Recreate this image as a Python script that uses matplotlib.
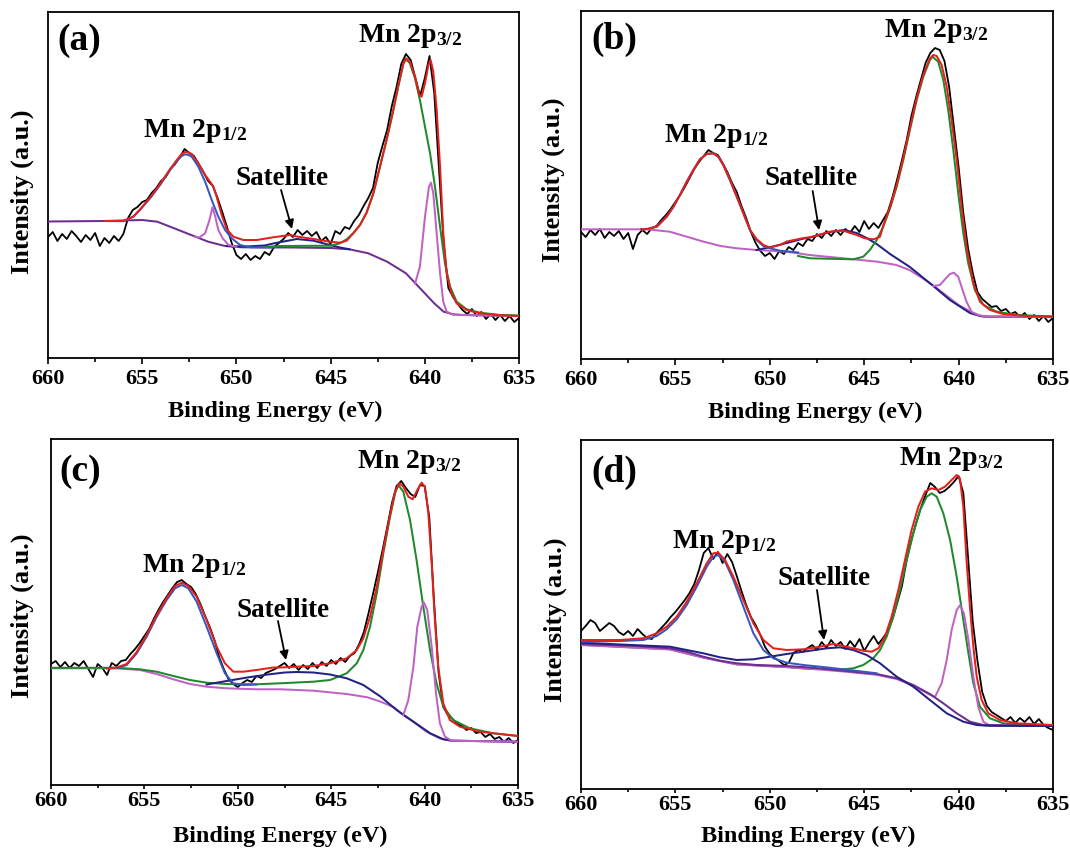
import numpy as np
import matplotlib
matplotlib.use("Agg")
import matplotlib.pyplot as plt

plt.rcParams['font.family'] = ['Liberation Serif', 'DejaVu Serif']
plt.rcParams['font.weight'] = 'bold'
plt.rcParams['mathtext.fontset'] = 'custom'
plt.rcParams['mathtext.rm'] = 'Liberation Serif:bold'
plt.rcParams['mathtext.bf'] = 'Liberation Serif:bold'
plt.rcParams['mathtext.it'] = 'Liberation Serif:bold'

# ---------------- data (binding energy eV, intensity a.u.) ----------------
# raw spectra, 660 -> 635 eV in 0.25 eV steps
a_raw = [121,126,117,124,119,127,122,116,123,118,125,112,120,115,122,117,124,
         140,148,151,156,158,165,170,177,181,189,194,201,209,205,202,194,186,177,172,160,146,131,115,103,
         99,104,98,102,99,106,103,111,115,119,125,121,128,123,127,122,126,117,121,114,127,124,131,129,
         137,143,152,160,170,195,212,228,252,271,294,304,298,280,262,280,302,265,190,115,70,61,54,48,
         44,49,42,46,39,44,38,43,37,42,36,40]
b_raw = [127,122,129,124,130,121,127,123,128,120,126,110,124,129,125,131,133,
         139,144,150,157,164,172,181,190,197,203,209,206,204,196,187,176,167,153,141,127,116,108,103,106,
         100,108,105,112,109,116,113,120,118,125,121,128,123,129,124,130,126,133,127,138,130,136,131,139,
         147,162,180,199,219,243,262,279,296,306,311,309,298,272,232,192,146,111,86,67,60,56,52,53,
         48,50,45,47,42,46,40,44,38,43,37,41]
c_raw = [121,124,118,123,117,122,119,124,116,108,121,117,110,122,119,124,125,
         131,136,142,149,156,166,175,183,190,197,203,205,201,198,191,181,169,158,145,128,116,106,101,98,
         102,105,103,109,107,112,114,116,119,122,117,121,115,120,116,122,117,123,119,125,121,127,123,129,
         132,141,153,172,192,213,235,258,282,299,304,297,291,288,300,299,268,185,112,78,70,66,61,59,
         55,57,52,53,48,51,46,48,43,47,42,45]
d_raw = [158,163,169,166,158,162,166,163,157,154,158,153,160,155,151,150,156,
         161,166,172,177,183,189,196,205,219,236,241,230,237,226,235,227,213,198,184,172,164,154,142,135,
         131,128,124,126,136,139,137,141,144,139,147,141,149,143,147,140,148,142,150,138,146,153,145,151,
         158,170,186,203,229,249,266,281,294,306,302,296,298,302,307,313,296,232,167,128,97,83,77,74,
         71,68,72,66,71,67,72,65,70,64,61,59]

# fitted curves as (energy, intensity) pairs
a_bg = [(660,136.5),(657,137),(655,138),(654.2,136.3),(653.3,129.7),(652.4,123),(651.5,116.3),(650.6,112),
        (649.7,110.7),(647,110.5),(645,110),(644,108.7),(643,104.7),(642,96.3),(641,84.7),(640.5,74.7),
        (640,64.7),(639.5,54.7),(639,46.3),(638.5,43.7),(638,43),(635,42)]
a_p12 = [(657,137),(656,136.8),(655.47,141.3),(655.12,148),(654.58,159.7),(654.05,173),(653.52,188),
         (653.3,193.5),(653.08,198.7),(652.9,202),(652.73,203.7),(652.55,203),(652.37,201.3),(652.02,191.3),
         (651.66,176.3),(651.31,158),(650.96,141.3),(650.6,128),(650.25,119.7),(649.8,113),(649.27,110.7),(648,110.5)]
a_s1 = [(652.2,121.5),(651.96,120.5),(651.66,124.7),(651.43,138),(651.27,150.7),(651.12,141.3),(650.96,128),
        (650.73,119.7),(650.42,113),(650.0,111.2)]
a_sat = [(650.5,112),(649.5,111.5),(648.5,112.5),(648.0,114.7),(647.15,117.7),(646.8,119),(645.92,117.3),
         (645.04,113),(644.5,110.5),(644.0,108.7)]
a_p32 = [(648.5,111),(647.69,112),(645.0,112.3),(644.5,114.7),(644.15,118.7),(643.8,124.7),(643.44,133),
         (643.09,145.3),(642.73,164.7),(642.38,191.3),(642.03,218),(641.67,248),(641.4,272),(641.14,294),
         (641.0,298.7),(640.79,294.7),(640.52,279.7),(640.26,258),(639.99,231.3),(639.72,204.7),(639.46,171.3),
         (639.19,131.3),(638.93,94.7),(638.66,71.3),(638.31,56.3),(637.78,48.7),(637.07,45.3),(636,43),(635,42.5)]
a_pk2 = [(640.52,74.3),(640.26,91.3),(639.99,141.3),(639.78,171.3),(639.67,175.3),(639.55,164.7),(639.37,124.7),
         (639.19,84.7),(639.02,56.3),(638.84,46.3),(638.49,43.3),(638,43),(635,42)]
a_env = [(657,137),(656,137),(655.47,141.5),(655.12,148.5),(654.58,160.5),(654.05,174),(653.52,189),(653.08,200),
         (652.9,204),(652.73,206),(652.55,205.5),(652.37,204),(652.02,194.7),(651.66,183),(651.4,176.3),
         (651.22,171.3),(651.04,160.7),(650.78,143),(650.51,128.7),(650.16,121.3),(649.63,118),(648.92,118),
         (648.04,120.7),(647.15,123),(646.8,121.5),(645.92,119),(645.04,116.3),(644.5,115.3),(644.15,117.3),
         (643.8,124.7),(643.44,133),(643.09,145.3),(642.73,164.7),(642.38,191.3),(642.03,218),(641.67,248),
         (641.4,273),(641.14,294.7),(641.0,299.7),(640.79,296.3),(640.52,281.3),(640.29,263),(640.17,261.3),
         (639.99,274.7),(639.81,293),(639.69,298),(639.55,286.3),(639.37,248),(639.19,191.3),(639.02,124.7),
         (638.84,84.7),(638.58,64.7),(638.31,54.7),(637.78,48),(637.07,44.7),(636.0,42.7),(635,42)]

b_bg = [(660,129.7),(656.5,129.7),(655.3,127.3),(654.4,122.3),(653.5,117.3),(652.6,113),(651.75,110.7),
        (650.7,109),(649.1,107.3),(647.9,104),(646.1,100.7),(644.3,97.3),(643.3,94),(642.6,89),(641.9,80.7),
        (641.3,73),(640.8,65.7),(640.0,54),(639.2,45.7),(638.7,42.3),(635,42.3)]
b_p12 = [(656.8,129.7),(656.52,129.9),(655.99,132.3),(655.46,142.3),(655.1,152.3),(654.76,164),(654.4,177.3),
         (654.05,189),(653.7,199.7),(653.34,205),(652.99,205.7),(652.73,202.3),(652.46,194),(652.11,179),
         (651.75,162.3),(651.4,145.7),(651.05,129),(650.7,119),(650.34,113),(649.99,110.7),(649.46,108.3),(648.5,106.5)]
b_sat = [(650.7,109),(650.0,111.7),(649.1,116),(648.2,120.5),(647.87,121.5),(646.81,127),(646.1,129),(645.4,126),
         (644.87,121),(644.34,115),(643.63,105),(642.58,92),(641.34,73),(640.46,59),(639.4,46),(638.87,43),
         (638.4,42.3),(635,42.3)]
b_pk2 = [(641.34,73),(640.99,74),(640.72,79.7),(640.46,85),(640.25,86.3),(640.02,82.3),(639.79,69),(639.58,57.3),
         (639.32,47.3),(638.96,44),(638.5,42.3),(635,42.3)]
b_p32 = [(648.5,103),(647.87,100.7),(645.58,99.7),(645.05,102.3),(644.7,109),(644.34,119),(643.99,132.3),
         (643.63,150.7),(643.28,172.3),(642.93,199),(642.58,229),(642.22,259),(641.87,282.3),(641.52,299),
         (641.38,302.3),(641.08,297.3),(640.81,279),(640.55,249),(640.28,209),(640.02,165.7),(639.75,125.7),
         (639.49,95.7),(639.14,69),(638.69,54),(637.98,47.3),(636.92,44),(635,42.3)]
b_env = [(656.8,129.7),(656.52,129.9),(655.99,132.3),(655.46,142.3),(655.1,152.3),(654.76,164),(654.4,177.3),
         (654.05,189),(653.7,199.7),(653.34,205),(652.99,205.7),(652.73,202.3),(652.46,194),(652.11,179),
         (651.75,162.3),(651.4,145.7),(651.05,129),(650.7,120),(650.34,114),(649.99,111.5),(649.46,114),
         (649.1,117.5),(648.2,121),(647.87,121.7),(646.81,127.3),(646.1,128.3),(645.4,124),(644.96,120.7),
         (644.5,119.7),(644.16,122.3),(643.99,133.5),(643.63,152),(643.28,174),(642.93,201),(642.58,231),
         (642.22,261),(641.87,284),(641.52,300.5),(641.34,304),(641.16,303),(640.9,294),(640.63,272.3),
         (640.37,239),(640.1,199),(639.84,152.3),(639.58,112.3),(639.22,75.7),(638.87,57.3),(638.34,49),
         (637.64,45),(636.4,43),(635,42.3)]

c_bg = [(660,116.7),(656.5,116.7),(655.24,115),(654.34,111),(653.45,105.7),(652.56,101),(651.67,98.3),
        (650.6,96.7),(649,95.7),(647.7,95.7),(645.96,94.3),(644.17,91),(643.06,87.7),(642.35,83.3),
        (641.64,77.7),(641.14,70),(640.6,63.3),(639.9,53.3),(639.2,46.7),(638.6,44.3),(635,43.3)]
c_p32 = [(660,117.2),(656.5,117.2),(655.24,115.7),(654.34,113.3),(653.45,109),(652.56,105),(651.67,102.3),
         (650.6,101),(649,100.7),(647.74,101.7),(645.96,103.3),(645.06,105),(644.17,111.7),(643.63,121.7),
         (643.28,135),(642.92,158.3),(642.56,191.7),(642.21,231.7),(641.85,268.3),(641.58,291.7),(641.41,300),
         (641.14,293.3),(640.78,265),(640.43,225),(640.07,178.3),(639.71,135),(639.36,101.7),(639.0,78.3),
         (638.47,65),(637.58,56.7),(636.33,51.7),(635,49)]
c_pk2 = [(641.14,70),(640.87,85),(640.6,118.3),(640.39,158.3),(640.16,178.3),(640.03,182.3),(639.86,175),
         (639.62,138.3),(639.39,91.7),(639.18,61.7),(638.91,48.3),(638.55,44.3),(635,43.3)]
c_p12 = [(657,116.7),(656.48,116.9),(655.95,120),(655.41,131.7),(654.88,148.3),(654.34,168.3),(653.81,185),
         (653.36,196.7),(653.0,200),(652.65,196.7),(652.2,183.3),(651.67,158.3),(651.13,131.7),(650.69,111.7),
         (650.24,101.7),(649.7,100),(649,100.5)]
c_sat = [(651.67,100.5),(650.6,104),(649.5,107.5),(648.4,110.5),(647.5,112.5),(646.85,113),(645.96,112.5),
         (645.06,110.5),(644.17,106.7),(643.28,100),(642.35,88.3),(641.5,75),(640.6,63.3),(639.7,51.7),
         (639.0,45.7),(638.5,44.3),(635,43.3)]
c_env = [(657,116.7),(656.48,117.5),(655.95,121),(655.41,133),(654.88,150),(654.34,170),(653.81,187),(653.36,199),
         (653.0,202.3),(652.65,199),(652.2,188.3),(651.67,165),(651.13,138.3),(650.69,121.7),(650.24,113.3),
         (649.7,113.3),(649.0,115),(648.1,117.5),(647.74,117.5),(646.85,118.3),(645.96,119),(645.06,121.7),
         (644.17,126.7),(643.63,135),(643.28,146.7),(642.92,168.3),(642.56,198.3),(642.21,235),(641.85,270),
         (641.58,293.3),(641.35,301.7),(641.14,298.3),(640.87,288.3),(640.64,285.7),(640.39,295),(640.16,302.3),
         (639.98,298.3),(639.8,271.7),(639.62,221.7),(639.45,165),(639.27,118.3),(639.0,81.7),(638.65,65),
         (638.11,58.3),(637.04,53.3),(635,49)]

d_bg = [(660,145),(657.05,143),(655.29,140.7),(654.4,137.3),(653.52,132.3),(652.64,128.3),(651.75,125.7),
        (650.7,124),(649.1,123),(647.87,121.5),(646.1,118.3),(644.34,115),(643.28,110.7),(642.4,104),
        (641.52,95),(640.81,85.7),(640.1,75.7),(639.4,67.3),(638.69,64),(635,63)]
d_p12 = [(660,147.3),(657.93,148),(656.7,149),(655.99,153),(655.46,159.7),(654.93,169.7),(654.4,184),
         (653.87,202.3),(653.34,222.3),(652.99,232.3),(652.73,234),(652.37,227.3),(651.93,209),(651.4,182.3),
         (650.87,155.7),(650.34,139),(649.81,130.7),(649.1,126.3),(648.22,124),(647.34,122.3),(646.1,119.7),(644.34,115.7)]
d_sat = [(660,146.3),(655.29,142.3),(653.52,135.7),(652.64,131.7),(651.75,129),(650.87,129.7),(649.99,132.3),
         (649.1,135),(648.22,137.3),(647.34,139.7),(646.99,140.7),(646.28,141.7),(645.58,139),(644.87,134),
         (644.16,125.7),(643.28,112.3),(642.4,102.3),(641.52,89),(640.63,75.7),(639.75,67.3),(639.04,64),
         (638.5,63.3),(635,63)]
d_p32 = [(660,144.2),(655.29,139.8),(653.52,131.5),(651.75,124.8),(649.1,122),(647.87,120),(646.1,119.7),
         (645.58,120.7),(645.05,124),(644.52,130.7),(644.16,139),(643.81,152.3),(643.46,172.3),(643.1,199),
         (642.75,229),(642.4,255.7),(642.04,279),(641.69,292.3),(641.43,295.7),(641.16,292.3),(640.81,275.7),
         (640.45,249),(640.1,212.3),(639.75,169),(639.48,135.7),(639.22,105.7),(638.87,82.3),(638.34,70.7),
         (637.64,65.7),(636.4,64),(635,63)]
d_pk2 = [(660,144),(655.29,139.5),(653.52,131.3),(651.75,124.5),(649.1,121.8),(647.87,120.3),(646.1,117.5),
         (644.34,114.2),(643.28,110),(642.4,103.3),(641.52,94.3),(641.25,92),(640.9,105.7),(640.63,129),
         (640.37,159),(640.1,179),(639.93,183.7),(639.72,175.7),(639.48,149),(639.22,112.3),(638.96,82.3),
         (638.69,67.3),(638.34,63.3),(635,63)]
d_env = [(660,149),(657.93,149),(656.7,150.7),(655.99,155.7),(655.46,162.3),(654.93,172.3),(654.4,187.3),
         (653.87,205.7),(653.34,225.7),(652.99,235.7),(652.73,236.3),(652.37,229),(651.93,212.3),(651.4,189),
         (650.87,165.7),(650.34,149),(649.81,140.7),(649.1,139),(648.22,139.7),(647.34,142.3),(646.64,145),
         (646.1,143),(645.58,140.7),(645.05,138.3),(644.6,137.3),(644.25,140.7),(643.9,152.3),(643.55,172.3),
         (643.19,199),(642.84,229),(642.49,259),(642.13,282.3),(641.78,297.3),(641.43,300.7),(641.07,299),
         (640.72,302.3),(640.37,309),(640.1,314),(639.93,310.7),(639.75,282.3),(639.58,229),(639.4,182.3),
         (639.22,142.3),(639.04,112.3),(638.78,89),(638.43,75.7),(637.81,69),(636.93,65.7),(635,64)]

x_ticks = [660, 655, 650, 645, 640, 635]
x_tick_labels = ['660', '655', '650', '645', '640', '635']
panel_letters = ['(a)', '(b)', '(c)', '(d)']

# ---------------- styling ----------------
RED = '#e3201b'
GREEN = '#1e8a2c'
BLUE = '#3658c0'
NAVY = '#222283'
MAGENTA = '#c062c4'
PURPLE = '#6e2d90'

W, H = 1070, 851
fig = plt.figure(figsize=(W / 100, H / 100), dpi=100)


def rect(l, t, r, b):
    return [l / W, 1 - b / H, (r - l) / W, (b - t) / H]


def xy(p):
    a = np.asarray(p, dtype=float)
    return a[:, 0], a[:, 1]


panels = [
    dict(rect=rect(48, 12, 519, 358), raw=a_raw,
         layers=[(a_bg, PURPLE), (a_sat, NAVY), (a_p12, BLUE), (a_s1, MAGENTA), (a_pk2, MAGENTA),
                 (a_p32, GREEN), (a_env, RED)],
         letter_pos=(0.019, 0.918), p12=(652.2, 221), sat=(647.58, 173), arrow=((647.63, 168), (647.05, 129)),
         p32=(640.8, 316), tick_len=(4.2, 3.0), tick_pad=3.5, xlab=(0.482, -0.153), ylab=(-0.055, 0.481)),
    dict(rect=rect(581, 11, 1053, 359), raw=b_raw,
         layers=[(b_bg, MAGENTA), (b_sat, NAVY), (b_p12, BLUE), (b_pk2, MAGENTA), (b_p32, GREEN), (b_env, RED)],
         letter_pos=(0.023, 0.917), p12=(652.82, 217), sat=(647.84, 174), arrow=((647.73, 168), (647.39, 129)),
         p32=(641.2, 322), tick_len=(4.2, 3.0), tick_pad=3.5, xlab=(0.496, -0.153), ylab=(-0.058, 0.514)),
    dict(rect=rect(51, 439, 518, 785), raw=c_raw,
         layers=[(c_bg, MAGENTA), (c_p32, GREEN), (c_sat, NAVY), (c_p12, BLUE), (c_pk2, MAGENTA), (c_env, RED)],
         letter_pos=(0.017, 0.906), p12=(652.34, 213), sat=(647.58, 168), arrow=((647.85, 164), (647.42, 125)),
         p32=(640.84, 317), tick_len=(3.2, 2.5), tick_pad=1.2, xlab=(0.49, -0.149), ylab=(-0.062, 0.49)),
    dict(rect=rect(581, 440, 1053, 789), raw=d_raw,
         layers=[(d_p32, GREEN), (d_pk2, MAGENTA), (d_bg, PURPLE), (d_sat, NAVY), (d_p12, BLUE), (d_env, RED)],
         letter_pos=(0.021, 0.907), p12=(652.43, 241), sat=(647.1, 204), arrow=((647.5, 199), (647.13, 149)),
         p32=(640.4, 324), tick_len=(3.2, 2.5), tick_pad=1.2, xlab=(0.481, -0.135), ylab=(-0.055, 0.484)),
]

for letter, P in zip(panel_letters, panels):
    ax = fig.add_axes(P['rect'])
    raw = np.asarray(P['raw'], dtype=float)
    e_raw = np.linspace(660, 635, len(raw))
    ax.plot(e_raw, raw, color='black', lw=1.3, zorder=2)
    for k, (curve, col) in enumerate(P['layers']):
        ex, ey = xy(curve)
        ax.plot(ex, ey, color=col, lw=1.45, zorder=3 + k * 0.1)
    hpx = P['rect'][3] * H
    ax.set_xlim(660, 635)
    ax.set_ylim(0, hpx)
    ax.set_yticks([])
    ax.set_xticks(x_ticks)
    ax.set_xticklabels(x_tick_labels)
    ax.set_xticks([657.5, 652.5, 647.5, 642.5, 637.5], minor=True)
    ax.tick_params(axis='x', which='major', direction='out', length=P['tick_len'][0], width=1.2,
                   labelsize=16, pad=P['tick_pad'])
    ax.tick_params(axis='x', which='minor', direction='out', length=P['tick_len'][1], width=1.2)
    for lab in ax.get_xticklabels():
        lab.set_fontweight('bold')
    for s in ax.spines.values():
        s.set_linewidth(1.3)
    ax.set_xlabel('Binding Energy (eV)', fontsize=17.5, fontweight='bold')
    ax.xaxis.label.set_va('center')
    ax.xaxis.set_label_coords(*P['xlab'])
    ax.set_ylabel('Intensity (a.u.)', fontsize=19, fontweight='bold')
    ax.yaxis.label.set_va('center')
    ax.yaxis.set_label_coords(*P['ylab'])

    ax.text(P['letter_pos'][0], P['letter_pos'][1], letter, transform=ax.transAxes,
            fontsize=27, fontweight='bold', ha='left', va='center')
    ax.text(P['p12'][0], P['p12'][1], r'Mn 2p$_{\mathbf{1/2}}$', fontsize=20, fontweight='bold',
            ha='center', va='baseline', zorder=6)
    ax.text(P['p32'][0], P['p32'][1], r'Mn 2p$_{\mathbf{3/2}}$', fontsize=20, fontweight='bold',
            ha='center', va='baseline', zorder=6)
    ax.text(P['sat'][0], P['sat'][1], 'Satellite', fontsize=19.5, fontweight='bold',
            ha='center', va='baseline', zorder=6)
    (tx, ty), (hx, hy) = P['arrow']
    ax.annotate('', xy=(hx, hy), xytext=(tx, ty),
                arrowprops=dict(arrowstyle='-|>', color='black', lw=1.3, mutation_scale=13,
                                shrinkA=0, shrinkB=0), zorder=6)

fig.savefig('out.png', dpi=100)
